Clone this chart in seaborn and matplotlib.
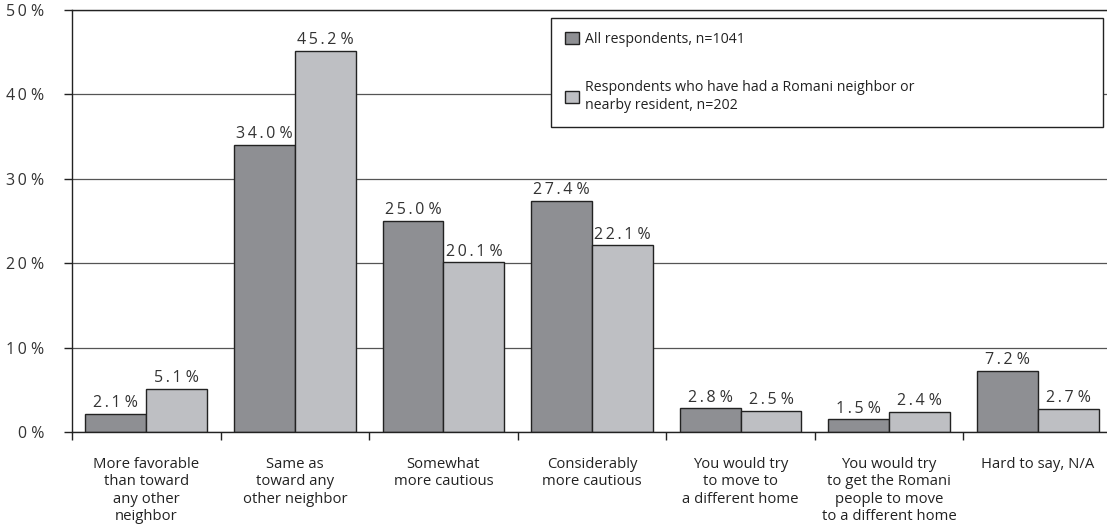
import numpy as np
import pandas as pd
import matplotlib
matplotlib.use("Agg")
import matplotlib.pyplot as plt
import seaborn as sns

# --- data ---
categories = [
    "More favorable\nthan toward\nany other\nneighbor",
    "Same as\ntoward any\nother neighbor",
    "Somewhat\nmore cautious",
    "Considerably\nmore cautious",
    "You would try\nto move to\na different home",
    "You would try\nto get the Romani\npeople to move\nto a different home",
    "Hard to say, N/A",
]
series_names = [
    "All respondents, n=1041",
    "Respondents who have had a Romani neighbor or\nnearby resident, n=202",
]
all_resp = [2.1, 34.0, 25.0, 27.4, 2.8, 1.5, 7.2]
neighbor_resp = [5.1, 45.2, 20.1, 22.1, 2.5, 2.4, 2.7]
y_ticks = [0, 10, 20, 30, 40, 50]

colors = ["#8e8f93", "#bebfc3"]

df = pd.DataFrame({
    "category": categories * 2,
    "group": [series_names[0]] * len(categories) + [series_names[1]] * len(categories),
    "value": all_resp + neighbor_resp,
})

sns.set_style("white")
plt.rcParams["font.family"] = ["Open Sans", "DejaVu Sans"]

TS = "\u2009"  # thin space for the letter-spaced numbers


def spaced(s):
    return TS.join(list(s))


fig = plt.figure(figsize=(11.07, 5.31), dpi=100)
ax = fig.add_axes([72 / 1107, 99 / 531, 1040 / 1107, 422 / 531])

sns.barplot(
    data=df, x="category", y="value", hue="group",
    palette=colors, width=0.82, gap=0, ax=ax,
    edgecolor="#222222", linewidth=1.0, saturation=1,
)

ax.set_xlim(-0.5, len(categories) - 0.5)
ax.set_ylim(0, 50)

# value labels above bars
for cont in ax.containers:
    ax.bar_label(cont, labels=[spaced(f"{v:.1f}") + " %" for v in cont.datavalues],
                 padding=2, fontsize=11.5, color="#333333")

# y axis
ax.set_yticks(y_ticks)
ax.set_yticklabels([spaced(f"{t}") + " %" for t in y_ticks], fontsize=11.5, color="#333333")
ax.tick_params(axis="y", which="major", direction="out", length=6, width=1,
               color="#222222", pad=14, left=True)
ax.yaxis.grid(True, color="#555555", linewidth=0.9)
ax.set_axisbelow(True)

# x axis: labels at centers, ticks at boundaries
ax.set_xticks(range(len(categories)))
ax.set_xticklabels(categories, fontsize=10.7, color="#222222", linespacing=1.22, va="top")
ax.tick_params(axis="x", which="major", length=0, pad=18)
ax.set_xticks(np.arange(-0.5, len(categories), 1.0), minor=True)
ax.tick_params(axis="x", which="minor", direction="out", length=6, width=1,
               color="#222222", bottom=True)

ax.set_xlabel("")
ax.set_ylabel("")

for side in ["left", "bottom", "top"]:
    ax.spines[side].set_visible(True)
    ax.spines[side].set_color("#222222")
    ax.spines[side].set_linewidth(1.0)
ax.spines["right"].set_visible(False)

leg = ax.legend(
    loc="upper left", bbox_to_anchor=(0.4606, 0.981, 0.5304, 0.0), mode="expand",
    frameon=True, fancybox=False, edgecolor="#222222", framealpha=1,
    fontsize=10.2, handlelength=0.95, handleheight=0.95, handletextpad=0.45,
    labelspacing=2.3, borderpad=1.0, borderaxespad=0, title=None,
)
leg.get_frame().set_linewidth(1.0)
for t in leg.get_texts():
    t.set_color("#222222")
    t.set_linespacing(1.3)

fig.savefig("out.png", dpi=100)
